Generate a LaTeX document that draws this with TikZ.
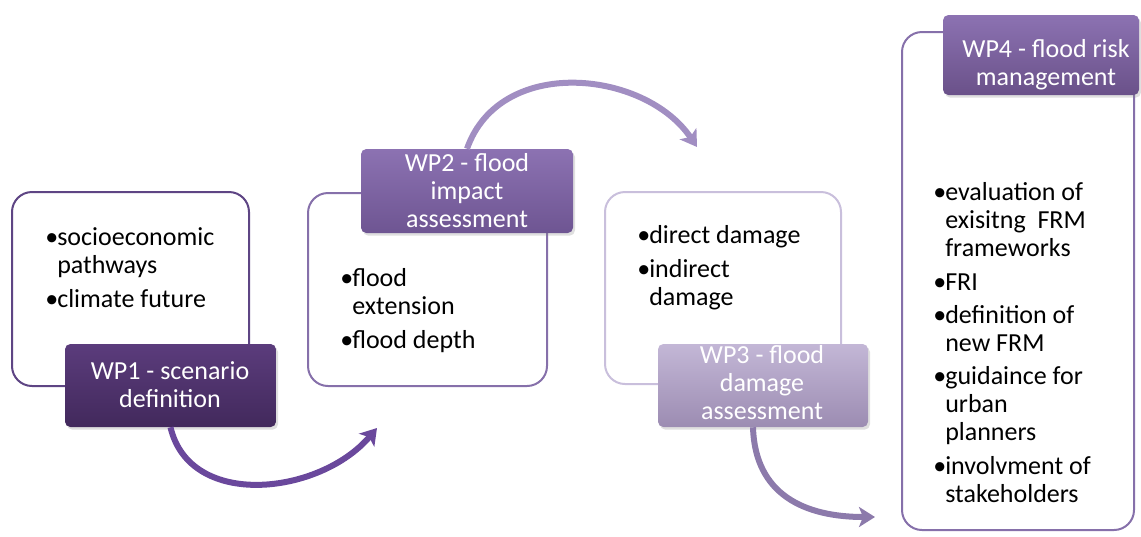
\documentclass[tikz,border=0pt]{standalone}
\usepackage{fontspec}
\setmainfont{Carlito}
\usetikzlibrary{arrows.meta,shadows}
% panel outlines, header fills and arrow colours
\definecolor{lineOne}{HTML}{5E4584}
\definecolor{lineTwo}{HTML}{8670AA}
\definecolor{lineThree}{HTML}{C9BFDC}
\definecolor{hdrOneTop}{HTML}{5B3C7C}
\definecolor{hdrOneBot}{HTML}{42295C}
\definecolor{hdrTwoTop}{HTML}{8C72B2}
\definecolor{hdrTwoBot}{HTML}{6E5592}
\definecolor{hdrThreeTop}{HTML}{C3B7D6}
\definecolor{hdrThreeBot}{HTML}{9C8CB2}
\definecolor{hdrFourBot}{HTML}{6A5189}
\definecolor{arrOne}{HTML}{6A489C}
\definecolor{arrTwo}{HTML}{A18EC2}
\definecolor{arrThree}{HTML}{8C7AAB}
% bullet with hanging indent
\newcommand{\bul}{\makebox[9pt][l]{\textbullet}}
\newcommand{\hang}{\hspace*{9pt}}

\begin{document}
\begin{tikzpicture}[x=0.75pt,y=0.75pt,yscale=-1,xscale=1,
        txt/.style={font={\fontsize{19.5pt}{21pt}\selectfont}, inner sep=0pt},
        listtxt/.style={txt, align=left, anchor=base west},
        hdrtxt/.style={txt, align=center, anchor=base, text=white},
        panel/.style={draw, line width=1.5pt, rounded corners=15pt, fill=white},
        hdr/.style={rounded corners=4pt, inner sep=0pt,
            drop shadow={shadow xshift=1.5pt, shadow yshift=-2pt, opacity=0.25}},
        flow/.style={line width=4.5pt, -{Stealth[length=12pt,width=15pt,inset=3pt]}}]
        \useasboundingbox (0,0) rectangle (1141,536);
        % text panels
        \node[panel, draw=lineOne, minimum width=237*0.75pt, minimum height=194*0.75pt] (box1) at (130.5,289) {};
        \node[panel, draw=lineTwo, minimum width=239*0.75pt, minimum height=193*0.75pt] (box2) at (427.5,289.5) {};
        \node[panel, draw=lineThree, minimum width=236*0.75pt, minimum height=192*0.75pt] (box3) at (723,288) {};
        \node[panel, draw=lineTwo, minimum width=232*0.75pt, minimum height=498*0.75pt] (box4) at (1018,281) {};
        % work package headers
        \node[hdr, top color=hdrOneTop, bottom color=hdrOneBot, minimum width=211*0.75pt, minimum height=83*0.75pt] (wp1) at (170.5,385.5) {};
        \node[hdr, top color=hdrTwoTop, bottom color=hdrTwoBot, minimum width=212*0.75pt, minimum height=84*0.75pt] (wp2) at (467,191) {};
        \node[hdr, top color=hdrThreeTop, bottom color=hdrThreeBot, minimum width=210*0.75pt, minimum height=83*0.75pt] (wp3) at (763,385.5) {};
        \node[hdr, top color=hdrTwoTop, bottom color=hdrFourBot, minimum width=196*0.75pt, minimum height=80*0.75pt] (wp4) at (1041,55) {};
        % arrows between the steps
        \coordinate (tip1) at (377,428);
        \coordinate (tip2) at (697,147);
        \coordinate (tip3) at (875,517);
        \draw[flow, arrOne] (wp1.south) .. controls (190,510) and (320,495) .. (tip1);
        \draw[flow, arrTwo] (wp2.north) .. controls (500,55) and (645,70) .. (tip2);
        \draw[flow, arrThree] ([xshift=-7.5pt]wp3.south) .. controls (755,495) and (805,517) .. (tip3);
        % header texts (placed at the baseline of the last line)
        \node[hdrtxt] (wp1t) at (170,407) {WP1 - scenario\\definition};
        \node[hdrtxt] (wp2t) at (467,227) {WP2 - flood\\impact\\assessment};
        \node[hdrtxt] (wp3t) at (762,419) {WP3 - flood\\damage\\assessment};
        \node[hdrtxt] (wp4t) at (1046,85) {WP4 - flood risk\\management};
        % bullet lists (placed at the baseline of the last line)
        \node[listtxt] (list1) at (45,307) {\bul socioeconomic\\ \hang pathways\\[4pt] \bul climate future};
        \node[listtxt] (list2) at (340,348) {\bul flood\\ \hang extension\\[4pt] \bul flood depth};
        \node[listtxt] (list3) at (637,305) {\bul direct damage\\[4pt] \bul indirect\\ \hang damage};
        \node[listtxt] (list4) at (933,502) {\bul evaluation of\\ \hang exisitng~ FRM\\ \hang frameworks\\[4pt]
            \bul FRI\\[4pt] \bul definition of\\ \hang new FRM\\[4pt] \bul guidaince for\\ \hang urban\\ \hang planners\\[4pt]
            \bul involvment of\\ \hang stakeholders};
\end{tikzpicture}
\end{document}
